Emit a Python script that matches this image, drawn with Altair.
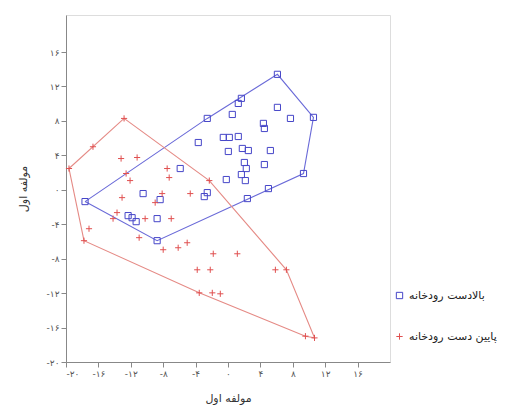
import altair as alt
import pandas as pd

# ---- data ----
up_x = [-17.65, -8.75, 9.32, 10.55, 6.10, -2.56, 1.65, 1.27, 0.53, 6.10, 7.71, 4.37, 4.49,
        -3.67, -0.58, 0.16, 1.27, 0.04, 1.77, 2.51, 5.23, 2.02, 2.26, 4.49, -5.90, -0.21,
        1.65, 2.14, 4.99, -10.48, -8.38, -2.93, -2.56, -12.33, -11.84, -11.34, -8.75, 2.39]
up_y = [-1.37, -5.91, 1.89, 8.41, 13.41, 8.29, 10.62, 10.03, 8.75, 9.57, 8.29, 7.71, 7.12,
        5.49, 6.08, 6.08, 6.19, 4.45, 4.80, 4.56, 4.56, 3.17, 2.47, 2.93, 2.47, 1.19,
        1.77, 1.07, 0.14, -0.44, -1.14, -0.79, -0.33, -3.00, -3.24, -3.70, -3.35, -1.02]

down_x = [-19.63, -16.67, -12.83, -2.31, 7.21, 10.68, -17.78, -13.20, -11.22, -12.58, -12.09,
          -7.51, -7.26, -13.08, -8.13, -8.99, -4.66, -13.70, -14.19, -17.16, -10.97, -8.00,
          -6.15, -5.04, -1.82, 1.15, -3.80, -2.19, -3.55, -1.94, -0.95, 5.85, 9.56, -7.01, -10.23]
down_y = [2.47, 5.00, 8.29, 1.07, -9.29, -17.20, -5.91, 3.63, 3.75, 1.89, 1.07,
          2.47, 1.42, -0.91, -0.44, -1.49, -0.44, -2.65, -3.35, -4.52, -5.56, -6.96,
          -6.73, -6.15, -7.43, -7.43, -9.29, -9.29, -11.97, -11.97, -12.08, -9.29, -17.00, -3.35, -3.35]

groups = ["بالادست رودخانه", "پایین دست رودخانه"]
colors = ["#4646c8", "#e05050"]
hull_colors = ["#6a6ad8", "#e58a85"]

tick_values = [-20, -16, -12, -8, -4, 0, 4, 8, 12, 16]
tick_labels = ["-۲۰", "-۱۶", "-۱۲", "-۸", "-۴", "۰", "۴", "۸", "۱۲", "۱۶"]
axis_title = "مولفه اول"


def convex_hull(xs, ys):
    pts = sorted(set(zip(xs, ys)))

    def cross(o, a, b):
        return (a[0] - o[0]) * (b[1] - o[1]) - (a[1] - o[1]) * (b[0] - o[0])

    lower, upper = [], []
    for p in pts:
        while len(lower) >= 2 and cross(lower[-2], lower[-1], p) <= 0:
            lower.pop()
        lower.append(p)
    for p in reversed(pts):
        while len(upper) >= 2 and cross(upper[-2], upper[-1], p) <= 0:
            upper.pop()
        upper.append(p)
    h = lower[:-1] + upper[:-1]
    return h + [h[0]]


pts = pd.concat([
    pd.DataFrame({"x": up_x, "y": up_y, "g": groups[0]}),
    pd.DataFrame({"x": down_x, "y": down_y, "g": groups[1]}),
])

label_expr = " : ".join(
    f"datum.value == {v} ? '{l}'" for v, l in zip(tick_values, tick_labels)
) + " : ''"

font = "DejaVu Sans"
xscale = alt.Scale(domain=[-20, 20], nice=False, zero=False)
yscale = alt.Scale(domain=[-20, 20.3], nice=False, zero=False)

axis_common = dict(values=tick_values, labelExpr=label_expr, grid=False,
                   domainColor="#888888", tickColor="#888888", tickSize=5,
                   labelFont=font, labelFontSize=9, labelColor="#555555",
                   titleFont=font, titleFontSize=11, titleFontWeight="normal",
                   titleColor="#333333")

x_enc = alt.X("x:Q", scale=xscale, axis=alt.Axis(title=axis_title, titlePadding=14, **axis_common))
y_enc = alt.Y("y:Q", scale=yscale, axis=alt.Axis(title=axis_title, titlePadding=18, **axis_common))

hull_layers = []
for xs, ys, hc in [(up_x, up_y, hull_colors[0]), (down_x, down_y, hull_colors[1])]:
    h = convex_hull(xs, ys)
    hdf = pd.DataFrame({"x": [p[0] for p in h], "y": [p[1] for p in h], "o": list(range(len(h)))})
    hull_layers.append(
        alt.Chart(hdf).mark_line(strokeWidth=1.1, color=hc).encode(x=x_enc, y=y_enc, order="o:Q")
    )

legend = alt.Legend(title=None, orient="none", legendX=328, legendY=275,
                    rowPadding=29, labelFont=font, labelFontSize=11,
                    labelColor="#222222", labelLimit=0, symbolSize=40,
                    symbolStrokeWidth=1)

plus_path = "M-1,0L1,0M0,-1L0,1"
point_layer = alt.Chart(pts).mark_point(filled=False, strokeWidth=1, opacity=1, size=38).encode(
    x=x_enc, y=y_enc,
    color=alt.Color("g:N", scale=alt.Scale(domain=groups, range=colors), legend=legend),
    shape=alt.Shape("g:N", scale=alt.Scale(domain=groups, range=["square", plus_path]), legend=legend),
)

chart = alt.layer(*hull_layers, point_layer).properties(
    width=324, height=347,
    autosize="none",
    padding={"left": 66, "top": 15, "right": 119, "bottom": 55},
).configure_view(stroke="#888888", strokeWidth=1.5).configure(background="white")

chart.save("out.html", embed_options={"renderer": "svg", "actions": False})
